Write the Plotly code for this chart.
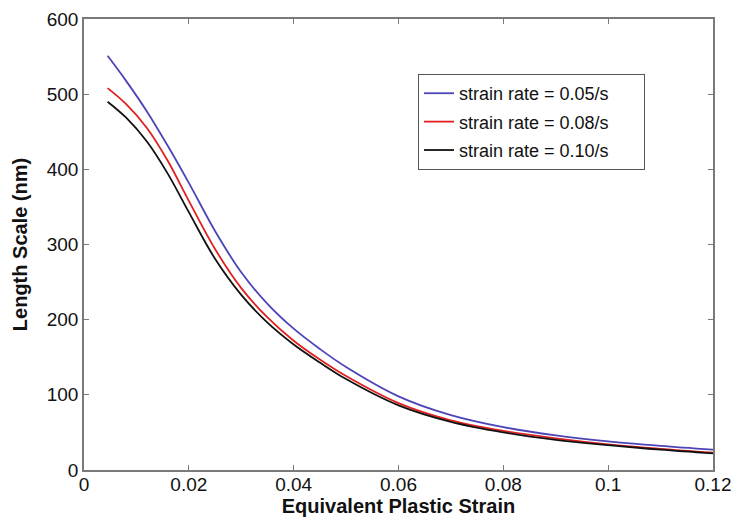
import plotly.graph_objects as go

# Equivalent plastic strain sample points
strain = [0.0045, 0.008, 0.012, 0.016, 0.02, 0.025, 0.03, 0.035, 0.04,
          0.045, 0.05, 0.06, 0.07, 0.08, 0.09, 0.10, 0.11, 0.12]

# Length scale (nm) for each strain rate
ls_005 = [551, 518, 477, 431, 382, 318, 263, 221, 188,
          161, 137, 98, 73, 57, 46, 38, 32, 27]
ls_008 = [508, 487, 455, 411, 358, 294, 242, 203, 172,
          147, 125, 89, 66, 52, 42, 34, 28, 23]
ls_010 = [490, 469, 437, 394, 343, 281, 233, 196, 167,
          143, 121, 86, 64, 50, 40, 33, 27, 22]

series = [
    ("strain rate = 0.05/s", ls_005, "#4b45b8"),
    ("strain rate = 0.08/s", ls_008, "#e0201e"),
    ("strain rate = 0.10/s", ls_010, "#111111"),
]

x_ticks = [0, 0.02, 0.04, 0.06, 0.08, 0.1, 0.12]
x_labels = ["0", "0.02", "0.04", "0.06", "0.08", "0.1", "0.12"]
y_ticks = [0, 100, 200, 300, 400, 500, 600]

FONT = "Liberation Sans, Arial, sans-serif"
PAD = "\u00a0" * 6  # right-hand padding inside the legend box

fig = go.Figure()
for i, (name, vals, color) in enumerate(series):
    fig.add_trace(go.Scatter(
        x=strain, y=vals, name=name + PAD, mode="lines", legendgroup=f"g{i}",
        line=dict(color=color, width=1.8, shape="spline", smoothing=1.0),
    ))

axis_common = dict(
    showline=True, linecolor="#7a7a7a", linewidth=1.5, mirror="ticks",
    ticks="inside", ticklen=5, tickcolor="#7a7a7a", tickwidth=1,
    showgrid=False, zeroline=False, automargin=False,
    tickfont=dict(family=FONT, size=19, color="#111"),
)

fig.update_xaxes(
    range=[0, 0.12], tickvals=x_ticks, ticktext=x_labels,
    ticklabelstandoff=-4,
    title=dict(text="<b>Equivalent Plastic Strain</b>", standoff=3,
               font=dict(family=FONT, size=20, color="#111")),
    **axis_common,
)
fig.update_yaxes(
    range=[0, 600], tickvals=y_ticks,
    title=dict(text="<b>Length Scale (nm)</b>", standoff=14,
               font=dict(family=FONT, size=20, color="#111")),
    **axis_common,
)

fig.update_layout(
    width=732, height=526,
    margin=dict(l=84, r=19, t=19, b=56),
    plot_bgcolor="white", paper_bgcolor="white",
    legend=dict(
        x=0.531, y=0.878, xanchor="left", yanchor="top",
        bgcolor="white", bordercolor="#555", borderwidth=1,
        font=dict(family=FONT, size=18, color="#111"),
        tracegroupgap=2,
    ),
)

fig.write_html("out.html")
